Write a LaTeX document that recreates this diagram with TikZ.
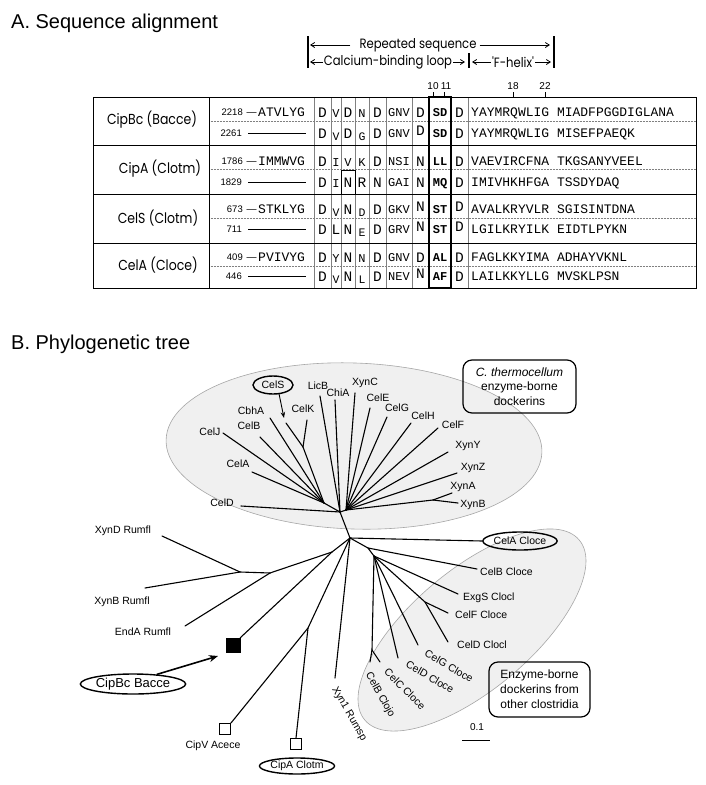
\documentclass[tikz,border=0pt]{standalone}
\usepackage{fontspec}
\setmainfont{Liberation Sans}
\newfontfamily\monofont{Liberation Mono}
\newfontfamily\comicfont[FakeStretch=0.86]{Poppins}
\usetikzlibrary{shapes.geometric,arrows.meta}
\newcommand\smres[1]{{\fontsize{12}{12}\selectfont #1}}
\newcommand\lowres[1]{\raisebox{-2.5pt}{\fontsize{11.5}{12}\selectfont #1}}
\newcommand\hires[1]{\raisebox{2.5pt}{#1}}
\begin{document}
\begin{tikzpicture}[x=1pt,y=-1pt,
  br/.style={line width=1.1pt, line cap=round},
  lab/.style={font=\fontsize{10.5}{12}\selectfont, inner sep=0pt},
  res/.style={font=\monofont\fontsize{14.5}{15}\selectfont, inner sep=0pt, anchor=base},
  resthree/.style={font=\monofont\fontsize{12}{13}\selectfont, inner sep=0pt, anchor=base},
  resbold/.style={font=\monofont\bfseries\fontsize{12}{13}\selectfont, inner sep=0pt, anchor=base},
  seqtxt/.style={font=\monofont\fontsize{13}{14}\selectfont, inner sep=0pt, anchor=base west},
  numtxt/.style={font=\fontsize{9.5}{10}\selectfont, inner sep=0pt, anchor=base east},
  grp/.style={font=\comicfont\fontsize{14.5}{16}\selectfont, inner sep=0pt},
  hdr/.style={font=\comicfont\fontsize{13.5}{14}\selectfont, inner sep=1pt},
  hdrarrow/.style={line width=0.8pt, -{Straight Barb[length=4pt,width=5pt]}},
  tick/.style={line width=0.8pt},
  colline/.style={gray, line width=0.6pt},
  ovalbox/.style={ellipse, draw, line width=1.4pt, inner sep=0pt},
  txtbox/.style={draw, line width=1.2pt, rounded corners=9pt, align=center, inner sep=0pt},
  region/.style={ellipse, fill=black!6, draw=black!35, line width=0.6pt, inner sep=0pt}
]
\useasboundingbox (0,0) rectangle (706,785);

% ---------- titles
\node[anchor=base west, inner sep=0, font=\fontsize{20}{22}\selectfont] (titA) at (11,28.5) {A. Sequence alignment};
\node[anchor=base west, inner sep=0, font=\fontsize{20}{22}\selectfont] (titB) at (11,349) {B. Phylogenetic tree};

% ---------- header
\coordinate (bLt) at (308,36); \coordinate (bLb) at (308,68);
\coordinate (bRt) at (554,36); \coordinate (bRb) at (554,68);
\coordinate (bMt) at (469,53); \coordinate (bMb) at (469,68);
\draw[line width=1.2pt] (bLt) -- (bLb);
\draw[line width=1.2pt] (bRt) -- (bRb);
\draw[line width=1.2pt] (bMt) -- (bMb);
\node[hdr] (rep) at (418,45) {Repeated sequence};
\coordinate (repL) at (310,45); \coordinate (repR) at (550,45);
\draw[hdrarrow] ([xshift=-8pt]rep.west) -- (repL);
\draw[hdrarrow] ([xshift=2pt]rep.east) -- (repR);
\node[hdr] (cal) at (388,62) {Calcium-binding loop};
\coordinate (calL) at (310,62); \coordinate (calR) at (465,62);
\draw[hdrarrow] (cal.west) -- (calL);
\draw[hdrarrow] (cal.east) -- (calR);
\node[hdr] (fhx) at (513,62) {'F-helix'};
\coordinate (fhxL) at (472,62); \coordinate (fhxR) at (551,62);
\draw[hdrarrow] (fhx.west) -- (fhxL);
\draw[hdrarrow] (fhx.east) -- (fhxR);

% numbering above
\node[inner sep=0, font=\fontsize{10}{11}\selectfont] (p10) at (433,86) {10};
\node[inner sep=0, font=\fontsize{10}{11}\selectfont] (p11) at (446,86) {11};
\node[inner sep=0, font=\fontsize{10}{11}\selectfont] (p18) at (513,86) {18};
\node[inner sep=0, font=\fontsize{10}{11}\selectfont] (p22) at (545,86) {22};
\foreach \xx in {433,444,513,545} \draw[tick] (\xx,92) -- (\xx,97);

% ---------- table frame
\foreach \xx in {314,331,341,355,369,386,412,468} \draw[colline] (\xx,97) -- (\xx,288);
\foreach \yy in {121.5,169.5,218,266} \draw[gray, densely dotted, line width=0.5pt] (209,\yy) -- (696,\yy);
\draw[line width=1pt] (93,97) rectangle (696,288);
\draw[line width=1pt] (209,97) -- (209,288);
\foreach \yy in {145,194,243} \draw[line width=1pt] (93,\yy) -- (696,\yy);
\draw[line width=0.9pt] (341,170) rectangle (355,194);
\draw[line width=2pt] (429,97) rectangle (451,288);

% group labels
\node[grp] (gA) at (152,120) {CipBc (Bacce)};
\node[grp] (gB) at (160,169) {CipA (Clotm)};
\node[grp] (gC) at (158,218) {CelS (Clotm)};
\node[grp] (gD) at (158,265) {CelA (Cloce)};

% numbers and prefixes
\foreach \id/\yy/\nn/\pre in {11/112/2218/ATVLYG,21/161/1786/IMMWVG,31/209/673/STKLYG,41/257/409/PVIVYG}{
  \node[numtxt] (n\id) at (243,\yy+3.5) {\nn};
  \node[inner sep=0, anchor=base, font=\fontsize{10}{11}\selectfont] (d\id) at (251.5,\yy+3.5) {—};
  \node[seqtxt] (p\id) at (258,\yy+4.5) {\pre};
}
\foreach \id/\yy/\nn in {12/133/2261,22/182/1829,32/229/711,42/276/446}{
  \node[numtxt] (n\id) at (242,\yy+3.5) {\nn};
  \draw[line width=0.7pt] ([xshift=6pt,yshift=3pt]n\id.base east) -- ++(58,0);
}

% residues
\foreach \id/\yy/\ca/\cb/\cc/\cd/\ce/\cf/\cg/\ch/\ci/\sq in {
 11/112/D/{\smres{V}}/D/{\smres{N}}/D/GNV/D/SD/D/YAYMRQWLIG MIADFPGGDIGLANA,
 12/133/D/{\lowres{V}}/D/{\lowres{G}}/D/GNV/{\hires{D}}/SD/D/YAYMRQWLIG MISEFPAEQK,
 21/161/D/{\smres{I}}/{\smres{V}}/{\smres{K}}/D/NSI/N/LL/D/VAEVIRCFNA TKGSANYVEEL,
 22/182/D/{\smres{I}}/N/R/N/GAI/N/MQ/D/IMIVHKHFGA TSSDYDAQ,
 31/209/D/{\lowres{V}}/N/{\lowres{D}}/D/GKV/{\hires{N}}/ST/{\hires{D}}/AVALKRYVLR SGISINTDNA,
 32/229/D/L/N/{\lowres{E}}/D/GRV/{\hires{N}}/ST/{\hires{D}}/LGILKRYILK EIDTLPYKN,
 41/257/D/{\smres{Y}}/N/{\smres{N}}/D/GNV/D/AL/D/FAGLKKYIMA ADHAYVKNL,
 42/276/D/{\lowres{V}}/N/{\lowres{L}}/D/NEV/{\hires{N}}/AF/D/LAILKKYLLG MVSKLPSN}{
  \node[res] (r\id a) at (322.5,\yy+5) {\ca};
  \node[res] (r\id b) at (336,\yy+5) {\cb};
  \node[res] (r\id c) at (348,\yy+5) {\cc};
  \node[res] (r\id d) at (362,\yy+5) {\cd};
  \node[res] (r\id e) at (377.5,\yy+5) {\ce};
  \node[resthree] (r\id f) at (399,\yy+4.5) {\cf};
  \node[res] (r\id g) at (420.5,\yy+5) {\cg};
  \node[resbold] (r\id h) at (440,\yy+4.5) {\ch};
  \node[res] (r\id i) at (459.5,\yy+5) {\ci};
  \node[seqtxt] (s\id) at (471,\yy+4.5) {\sq};
}

% ---------- tree: shaded regions
\node[region, minimum width=376, minimum height=166, rotate=-2] (ellT) at (354,446) {};
\node[region, minimum width=280, minimum height=120, rotate=40] (ellO) at (472,630) {};

% internal nodes
\coordinate (H1) at (340,512);
\coordinate (nR) at (346,510);
\coordinate (H2) at (350,538);
\coordinate (nL) at (324,503);
\coordinate (nKS) at (303,447);
\coordinate (nAB) at (433,500);
\coordinate (c1) at (368,548);
\coordinate (c2) at (374,556);
\coordinate (cFD) at (425,602);
\coordinate (cBC) at (372,650);
\coordinate (pp) at (332,552);
\coordinate (r2) at (270,573);
\coordinate (r3) at (240,572);
\coordinate (cA) at (308,628);

% leaf ends
\coordinate (eCelD) at (241,506);
\coordinate (eCelA) at (252,472);
\coordinate (eCelJ) at (223,433);
\coordinate (eCelB) at (260,437);
\coordinate (eCbhA) at (270,418);
\coordinate (eCelS) at (286,423);
\coordinate (eCelK) at (307,420);
\coordinate (eLicB) at (320,396);
\coordinate (eChiA) at (335,400);
\coordinate (eXynC) at (355,393);
\coordinate (eCelE) at (370,408);
\coordinate (eCelG) at (387,417);
\coordinate (eCelH) at (411,423);
\coordinate (eCelF) at (438,428);
\coordinate (eXynY) at (448,452);
\coordinate (eXynZ) at (457,473);
\coordinate (eXynA) at (452,493);
\coordinate (eXynB) at (458,503);
\coordinate (eCelBc) at (477,569);
\coordinate (eExgS) at (458,594);
\coordinate (eCelFc) at (448,613);
\coordinate (eCelDl) at (448,642);
\coordinate (eCelGc) at (418,645);
\coordinate (eCelDc) at (398,658);
\coordinate (eCelBj) at (370,662);
\coordinate (eCelCc) at (380,662);
\coordinate (eXyn1) at (335,678);
\coordinate (eXynD) at (162,536);
\coordinate (eXynBr) at (145,588);
\coordinate (eEndA) at (185,626);

% leaf labels
\node[lab] (tCelD) at (222,503) {CelD};
\node[lab] (tCelA) at (238,464) {CelA};
\node[lab] (tCelJ) at (210,432) {CelJ};
\node[lab] (tCelB) at (249,426) {CelB};
\node[lab] (tCbhA) at (251,411) {CbhA};
\node[lab, ovalbox, minimum width=40, minimum height=18] (tCelS) at (273,385) {CelS};
\node[lab] (tCelK) at (303,409) {CelK};
\node[lab] (tLicB) at (318,386) {LicB};
\node[lab] (tChiA) at (338,393) {ChiA};
\node[lab] (tXynC) at (365,383) {XynC};
\node[lab] (tCelE) at (378,398) {CelE};
\node[lab] (tCelG) at (397,408) {CelG};
\node[lab] (tCelH) at (423,416) {CelH};
\node[lab] (tCelF) at (453,425) {CelF};
\node[lab] (tXynY) at (468,446) {XynY};
\node[lab] (tXynZ) at (473,468) {XynZ};
\node[lab] (tXynA) at (463,487) {XynA};
\node[lab] (tXynB) at (473,505) {XynB};
\node[lab, ovalbox, minimum width=74, minimum height=18] (tCelAc) at (520,541) {CelA Cloce};
\node[lab, anchor=west] (tCelBc) at (480,572) {CelB Cloce};
\node[lab, anchor=west] (tExgS) at (463,598) {ExgS Clocl};
\node[lab, anchor=west] (tCelFc) at (455,615) {CelF Cloce};
\node[lab, anchor=west] (tCelDl) at (457,645) {CelD Clocl};
\node[lab, rotate=-30] (tCelGc) at (449,666) {CelG Cloce};
\node[lab, rotate=-30] (tCelDc) at (430,677) {CelD Cloce};
\node[lab, rotate=-45] (tCelCc) at (405,689) {CelC Cloce};
\node[lab, rotate=-61] (tCelBj) at (380,695) {CelB Clojo};
\node[lab, rotate=-60] (tXyn1) at (349,714) {Xyn1 Rumsp};
\node[lab] (tXynD) at (123,531) {XynD Rumfl};
\node[lab] (tXynBr) at (122,602) {XynB Rumfl};
\node[lab] (tEndA) at (143,632) {EndA Rumfl};
\node[draw, fill=black, minimum size=14, inner sep=0] (sqB) at (233,645) {};
\node[draw, fill=white, line width=0.8pt, minimum size=11, inner sep=0] (sqV) at (225,729) {};
\node[draw, fill=white, line width=0.8pt, minimum size=11, inner sep=0] (sqA) at (296,744) {};
\node[lab, font=\fontsize{10.5}{12}\selectfont] (tCipV) at (213,746) {CipV Acece};
\node[lab, ovalbox, minimum width=72, minimum height=16] (tCipA) at (297,766) {CipA Clotm};
\node[ovalbox, font=\fontsize{13}{14}\selectfont, minimum width=104, minimum height=20] (tCipBc) at (133,684) {CipBc Bacce};

% branches: upper cluster
\draw[br] (H1) -- (eCelD);
\draw[br] (H1) -- (nL);
\draw[br] (nL) -- (eCelA);
\draw[br] (nL) -- (eCelJ);
\draw[br] (nL) -- (eCelB);
\draw[br] (nL) -- (eCbhA);
\draw[br] (nL) -- (nKS);
\draw[br] (nKS) -- (eCelS);
\draw[br] (nKS) -- (eCelK);
\draw[br] (H1) -- (eLicB);
\draw[br] (H1) -- (eChiA);
\draw[br] (H1) -- (nR);
\draw[br] (nR) -- (eXynC);
\draw[br] (nR) -- (eCelE);
\draw[br] (nR) -- (eCelG);
\draw[br] (nR) -- (eCelH);
\draw[br] (nR) -- (eCelF);
\draw[br] (nR) -- (eXynY);
\draw[br] (nR) -- (eXynZ);
\draw[br] (nR) -- (nAB);
\draw[br] (nAB) -- (eXynA);
\draw[br] (nAB) -- (eXynB);
\draw[br] (H1) -- (H2);
% lower right cluster
\draw[br] (H2) -- (tCelAc.west);
\draw[br] (H2) -- (c1);
\draw[br] (c1) -- (eCelBc);
\draw[br] (c1) -- (c2);
\draw[br] (c2) -- (eExgS);
\draw[br] (c2) -- (cFD);
\draw[br] (cFD) -- (eCelFc);
\draw[br] (cFD) -- (eCelDl);
\draw[br] (c2) -- (eCelGc);
\draw[br] (c2) -- (eCelDc);
\draw[br] (c2) -- (cBC);
\draw[br] (cBC) -- (eCelBj);
\draw[br] (cBC) -- (eCelCc);
% lower left
\draw[br] (H2) -- (eXyn1);
\draw[br] (H2) -- (cA);
\draw[br] (cA) -- (sqV.north east);
\draw[br] (cA) -- (sqA.north);
\draw[br] (H2) -- (pp);
\draw[br] (pp) -- (sqB.north east);
\draw[br] (pp) -- (r2);
\draw[br] (r2) -- (eEndA);
\draw[br] (r2) -- (r3);
\draw[br] (r3) -- (eXynD);
\draw[br] (r3) -- (eXynBr);

% pointer arrows
\coordinate (aS) at (284,418);
\draw[line width=0.9pt, -{Stealth[length=6pt,width=4.5pt]}] ([xshift=6pt,yshift=1pt]tCelS.south) -- (aS);
\coordinate (aB) at (218,656);
\draw[line width=1.6pt, -{Stealth[length=9pt,width=7pt]}] (tCipBc.22) -- (aB);

% info boxes
\node[txtbox, minimum width=113, minimum height=53, font=\fontsize{12}{14.5}\selectfont] (boxT) at (519.5,386.5) {\textit{C. thermocellum}\\enzyme-borne\\dockerins};
\node[txtbox, minimum width=101, minimum height=55, font=\fontsize{12}{15}\selectfont] (boxO) at (539.5,689.5) {Enzyme-borne\\dockerins from\\other clostridia};

% scale bar
\node[inner sep=0, font=\fontsize{10}{11}\selectfont] (sbl) at (477,727) {0.1};
\coordinate (sbA) at (462,740); \coordinate (sbB) at (490,740);
\draw[line width=0.8pt] (sbA) -- (sbB);
\end{tikzpicture}
\end{document}
